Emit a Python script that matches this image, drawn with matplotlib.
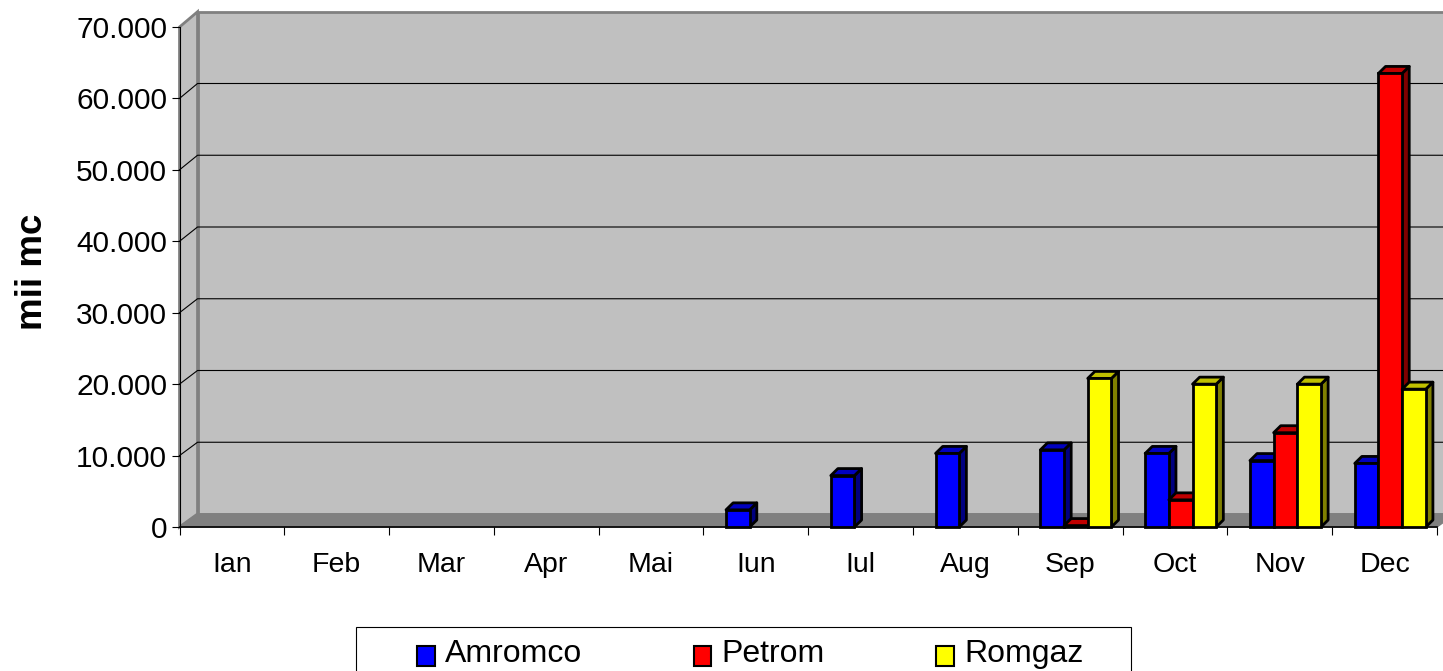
import matplotlib
matplotlib.use("Agg")
import matplotlib.pyplot as plt
from matplotlib.legend_handler import HandlerPatch
from matplotlib.patches import Polygon, Rectangle
from matplotlib.ticker import FuncFormatter

plt.rcParams['font.family'] = ['Liberation Sans', 'DejaVu Sans']

months = ["Ian", "Feb", "Mar", "Apr", "Mai", "Iun", "Iul", "Aug", "Sep", "Oct", "Nov", "Dec"]
amromco = [0, 0, 0, 0, 0, 2400, 7200, 10300, 10800, 10300, 9300, 8900]
petrom = [0, 0, 0, 0, 0, 0, 0, 0, 200, 3800, 13200, 63500]
romgaz = [0, 0, 0, 0, 0, 0, 0, 0, 20800, 20000, 20000, 19300]
series_names = ["Amromco", "Petrom", "Romgaz"]
y_ticks = [0, 10000, 20000, 30000, 40000, 50000, 60000, 70000]

# front, top, side colours for each series
front_colors = ["#0000FF", "#FF0000", "#FFFF00"]
top_colors = ["#0000C0", "#C00000", "#C0C000"]
side_colors = ["#000080", "#800000", "#808000"]

W, H = 1443, 671
AX_L, AX_R, AX_T, AX_B = 179.5, 1437, 27, 527
# depth of the box and of the bars, in data units
WALL_DX, WALL_DY = 0.172, 1820
WALL_SCALE = 1.0045  # back wall is drawn a touch taller than the front axis
BAR_DX, BAR_DY = 0.068, 980
BAR_W = 0.226
GROUP_GAP = 0.215


def back_y(v):
    return WALL_DY + v * WALL_SCALE


fig = plt.figure(figsize=(W / 100, H / 100), dpi=100)
ax = fig.add_axes([AX_L / W, 1 - AX_B / H, (AX_R - AX_L) / W, (AX_B - AX_T) / H])
ax.patch.set_visible(False)
ax.set_xlim(0, 12)
ax.set_ylim(0, 70000)

ymax = y_ticks[-1]
# back wall, left wall, floor
ax.add_patch(Polygon([(WALL_DX, back_y(0)), (12 + WALL_DX, back_y(0)), (12 + WALL_DX, back_y(ymax)), (WALL_DX, back_y(ymax))],
                     fc="#C0C0C0", ec="#808080", lw=2, clip_on=False, zorder=1))
ax.add_patch(Polygon([(0, 0), (WALL_DX, back_y(0)), (WALL_DX, back_y(ymax)), (0, ymax)],
                     fc="#C0C0C0", ec="#808080", lw=2, clip_on=False, zorder=1))
ax.add_patch(Polygon([(0, 0), (12, 0), (12 + WALL_DX, back_y(0)), (WALL_DX, back_y(0))],
                     fc="#808080", ec="#808080", lw=1, clip_on=False, zorder=1.1))

for v in y_ticks[1:-1]:
    ax.plot([0, WALL_DX, 12 + WALL_DX], [v, back_y(v), back_y(v)], color="black", lw=0.8,
            clip_on=False, zorder=1.2)

# bars, month by month so the nearer faces overlap correctly
z = 2
for i in range(len(months)):
    for s, values in enumerate([amromco, petrom, romgaz]):
        v = values[i]
        if v <= 0:
            continue
        x0 = i + GROUP_GAP + s * BAR_W
        x1 = x0 + BAR_W
        ax.add_patch(Polygon([(x1, 0), (x1 + BAR_DX, BAR_DY), (x1 + BAR_DX, v + BAR_DY), (x1, v)],
                             fc=side_colors[s], ec="black", lw=2, joinstyle="round", clip_on=False, zorder=z))
        ax.add_patch(Polygon([(x0, v), (x1, v), (x1 + BAR_DX, v + BAR_DY), (x0 + BAR_DX, v + BAR_DY)],
                             fc=top_colors[s], ec="black", lw=2, joinstyle="round", clip_on=False, zorder=z))
        ax.add_patch(Rectangle((x0, 0), BAR_W, v, fc=front_colors[s], ec="black", lw=2,
                               clip_on=False, zorder=z))
        z += 1

for name in ["top", "right"]:
    ax.spines[name].set_visible(False)
ax.spines["left"].set_linewidth(0.8)
ax.spines["bottom"].set_linewidth(1.2)
ax.spines["left"].set_zorder(1.5)
ax.spines["bottom"].set_zorder(1.5)

ax.set_yticks(y_ticks)
ax.yaxis.set_major_formatter(FuncFormatter(lambda v, _: f"{int(v):,}".replace(",", ".")))
ax.tick_params(axis="y", length=6, width=0.8, pad=3, labelsize=21.5)
ax.set_xticks(range(13))
ax.set_xticklabels([])
ax.set_xticks([i + 0.5 for i in range(12)], months, minor=True)
ax.tick_params(axis="x", which="major", length=6, width=0.8)
ax.tick_params(axis="x", which="minor", length=0, pad=18.2, labelsize=20.5)

ax.set_ylabel("mii mc", fontsize=26.5, fontweight="bold")
ax.yaxis.set_label_coords((50 - AX_L) / (AX_R - AX_L), (AX_B - 272) / (AX_B - AX_T))

# legend frame runs off the bottom of the picture
fig.add_artist(Rectangle((356 / W, -0.01), 775 / W, 1 - 627 / H + 0.01, transform=fig.transFigure,
                         fc="white", ec="black", lw=0.8))


def low_swatch(legend, orig_handle, xdescent, ydescent, width, height, fontsize):
    # swatches sit a little below the text centre
    return Rectangle((-xdescent, -ydescent - 4), width, height)


handles = [Rectangle((0, 0), 1, 1, fc=c, ec="black", lw=1.5) for c in front_colors]
fig.legend(handles, series_names, loc="upper left", bbox_to_anchor=(417 / W, 1 - 639 / H), ncols=3,
           frameon=False, fontsize=23, borderaxespad=0, borderpad=0, handlelength=0.55, handleheight=0.6,
           handletextpad=0.33, columnspacing=3.48,
           handler_map={Rectangle: HandlerPatch(patch_func=low_swatch)})

fig.savefig("out.png", dpi=100)
